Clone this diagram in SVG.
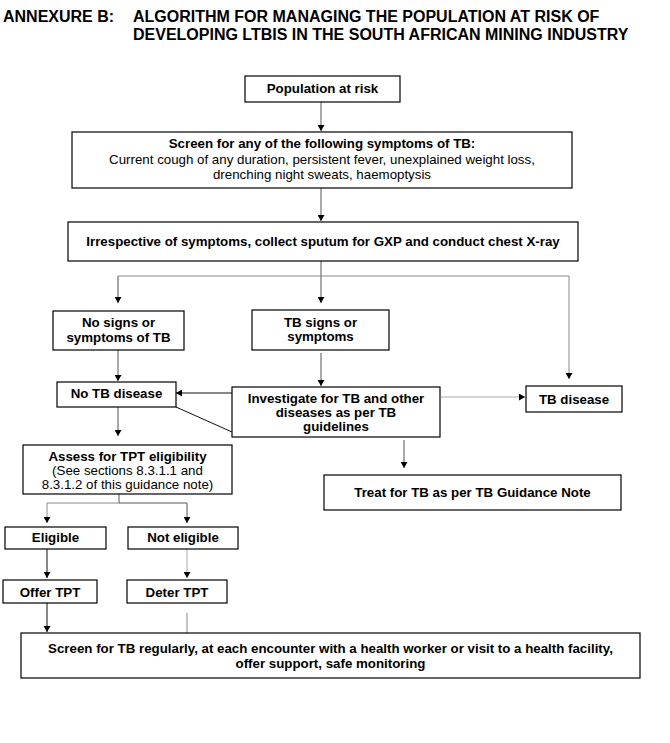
<svg xmlns="http://www.w3.org/2000/svg" width="670" height="743" viewBox="0 0 670 743">
<style>
text{font-family:"Liberation Sans",Arial,sans-serif;fill:#000}
.t{font-size:16px;font-weight:bold}
.b{font-size:13.3px;font-weight:bold;text-anchor:middle}
.r{font-size:13.3px;text-anchor:middle}
.box{fill:#fff;stroke:#000;stroke-width:1.2}
.c{fill:none;stroke-width:1}
.k{stroke:#111}
.d{stroke:#555}
.g{stroke:#888}
.lg{stroke:#aaa}
</style>
<defs>
<marker id="ah" viewBox="0 0 6 7" refX="6" refY="3.5" markerWidth="6" markerHeight="7" markerUnits="userSpaceOnUse" orient="auto"><path d="M0,0 L6,3.5 L0,7 z" fill="#000"/></marker>
</defs>
<rect width="670" height="743" fill="#fff"/>
<g id="title">
<text class="t" x="3" y="22">ANNEXURE B:</text>
<text class="t" x="133" y="22">ALGORITHM FOR MANAGING THE POPULATION AT RISK OF</text>
<text class="t" x="133" y="40">DEVELOPING LTBIS IN THE SOUTH AFRICAN MINING INDUSTRY</text>
</g>
<g id="connectors">
<path class="c d" d="M321,102 V131" marker-end="url(#ah)"/>
<path class="c d" d="M321,188 V221" marker-end="url(#ah)"/>
<path class="c d" d="M321,261 V303" marker-end="url(#ah)"/>
<path class="c g" d="M118,303 V276 H569 V379" marker-end="url(#ah)"/>
<path class="c g" d="M118,276 V303" marker-end="url(#ah)"/>
<path class="c d" d="M118,350 V381" marker-end="url(#ah)"/>
<path class="c d" d="M321,353 V386" marker-end="url(#ah)"/>
<path class="c k" d="M232,393 H176" marker-end="url(#ah)"/>
<path class="c k" d="M176,407 L232,432"/>
<path class="c lg" d="M441,397 H525" marker-end="url(#ah)"/>
<path class="c d" d="M118,407 V436" marker-end="url(#ah)"/>
<path class="c d" d="M404,440 V468" marker-end="url(#ah)"/>
<path class="c d" d="M119,494 V503 H187 V523" marker-end="url(#ah)"/>
<path class="c g" d="M119,503 H47 V523" marker-end="url(#ah)"/>
<path class="c k" d="M47,549 V578" marker-end="url(#ah)"/>
<path class="c lg" d="M187,549 V578" marker-end="url(#ah)"/>
<path class="c k" d="M47,603 V632" marker-end="url(#ah)"/>
<path class="c g" d="M187,613 V641" marker-end="url(#ah)"/>
</g>
<g id="population">
<rect class="box" x="245" y="76" width="155" height="26"/>
<text class="b" x="322.5" y="93">Population at risk</text>
</g>
<g id="screen">
<rect class="box" x="72" y="132" width="500" height="56"/>
<text class="b" x="322" y="148">Screen for any of the following symptoms of TB:</text>
<text class="r" x="322" y="164">Current cough of any duration, persistent fever, unexplained weight loss,</text>
<text class="r" x="322" y="179">drenching night sweats, haemoptysis</text>
</g>
<g id="irrespective">
<rect class="box" x="68" y="222" width="510" height="39"/>
<text class="b" x="323" y="246">Irrespective of symptoms, collect sputum for GXP and conduct chest X-ray</text>
</g>
<g id="no-signs">
<rect class="box" x="53" y="311" width="131" height="39"/>
<text class="b" x="118.5" y="327">No signs or</text>
<text class="b" x="118.5" y="342">symptoms of TB</text>
</g>
<g id="tb-signs">
<rect class="box" x="252" y="310" width="137" height="40"/>
<text class="b" x="320.5" y="327">TB signs or</text>
<text class="b" x="320.5" y="341">symptoms</text>
</g>
<g id="no-tb-disease">
<rect class="box" x="57" y="382" width="119" height="25"/>
<text class="b" x="116.5" y="398">No TB disease</text>
</g>
<g id="investigate">
<rect class="box" x="232" y="387" width="208" height="50"/>
<text class="b" x="336" y="403">Investigate for TB and other</text>
<text class="b" x="336" y="417">diseases as per TB</text>
<text class="b" x="336" y="431">guidelines</text>
</g>
<g id="tb-disease">
<rect class="box" x="526" y="386" width="96" height="26"/>
<text class="b" x="574" y="404">TB disease</text>
</g>
<g id="assess">
<rect class="box" x="23" y="445" width="209" height="49"/>
<text class="b" x="127.5" y="461">Assess for TPT eligibility</text>
<text class="r" x="127.5" y="475">(See sections 8.3.1.1 and</text>
<text class="r" x="127.5" y="489">8.3.1.2 of this guidance note)</text>
</g>
<g id="treat">
<rect class="box" x="324" y="475" width="297" height="35"/>
<text class="b" x="472.5" y="497">Treat for TB as per TB Guidance Note</text>
</g>
<g id="eligible">
<rect class="box" x="5" y="527" width="101" height="22"/>
<text class="b" x="55.5" y="542">Eligible</text>
</g>
<g id="not-eligible">
<rect class="box" x="128" y="527" width="110" height="22"/>
<text class="b" x="183" y="542">Not eligible</text>
</g>
<g id="offer-tpt">
<rect class="box" x="3" y="580" width="94" height="23"/>
<text class="b" x="50" y="597">Offer TPT</text>
</g>
<g id="deter-tpt">
<rect class="box" x="127" y="580" width="100" height="23"/>
<text class="b" x="177" y="597">Deter TPT</text>
</g>
<g id="screen-regularly">
<rect class="box" x="21" y="633" width="619" height="45"/>
<text class="b" x="330.5" y="653">Screen for TB regularly, at each encounter with a health worker or visit to a health facility,</text>
<text class="b" x="330.5" y="668">offer support, safe monitoring</text>
</g>
</svg>
